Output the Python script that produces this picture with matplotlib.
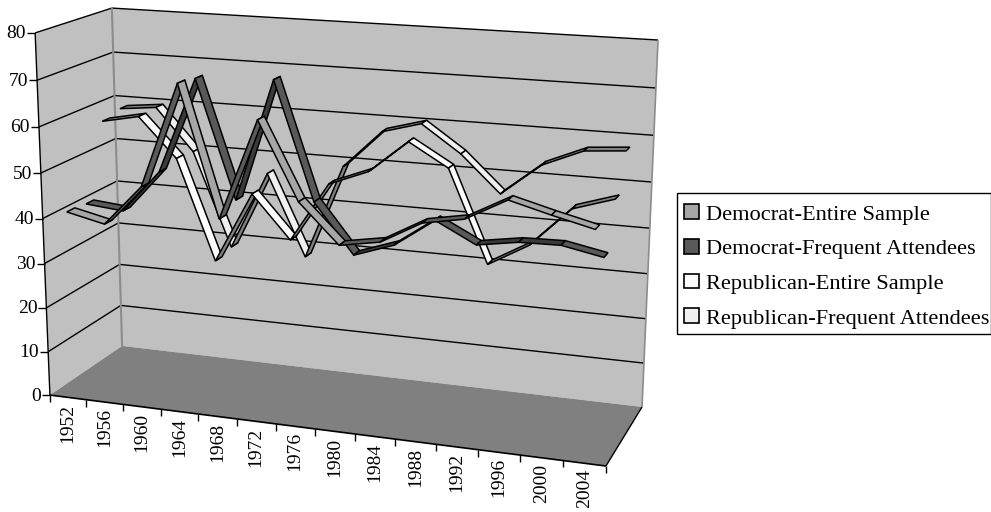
import numpy as np
import matplotlib
matplotlib.use("Agg")
import matplotlib.pyplot as plt
from matplotlib.patches import Polygon, Patch, Rectangle

plt.rcParams['font.family'] = ['Liberation Serif', 'DejaVu Serif']
years = list(range(1952, 2008, 4))
names = ['Democrat-Entire Sample', 'Democrat-Frequent Attendees', 'Republican-Entire Sample', 'Republican-Frequent Attendees']
dem_entire = [41.2, 39.3, 48.2, 70.9, 42.8, 64.5, 48.0, 39.6, 41.1, 45.9, 47.5, 52.2, 49.9, 47.8]
dem_frequent = [40.8, 40.0, 49.4, 70.3, 44.7, 71.2, 45.8, 35.1, 38.1, 44.2, 39.8, 41.2, 41.4, 39.7]
rep_entire = [57.4, 59.1, 50.4, 28.0, 43.9, 34.4, 47.6, 51.0, 58.2, 53.2, 33.2, 38.2, 46.8, 49.6]
rep_frequent = [58.5, 59.4, 50.0, 28.8, 46.4, 28.2, 49.4, 57.8, 60.2, 54.3, 46.3, 53.3, 57.0, 57.7]
series = [dem_entire, dem_frequent, rep_entire, rep_frequent]
colors = ['#a6a6a6', '#595959', '#fcfcfc', '#f0f0f0']
under = ['#5a5a5a', '#3a3a3a', '#808080', '#808080']

cube = np.array([[0,0,0],[0,0,1],[0,1,0],[0,1,1],[1,1,1],[1,1,0],[1,0,0]], float)
pix = np.array([[50,395],[35,33],[122,346],[112,8],[658,40],[642,407],[606,466]], float)
A = []; b = []
for (x,d,v),(u,w) in zip(cube,pix):
    A.append([x,d,v,1,0,0,0,0,-u*x,-u*d,-u*v]); b.append(u)
    A.append([0,0,0,0,x,d,v,1,-w*x,-w*d,-w*v]); b.append(w)
P = np.linalg.lstsq(np.array(A),np.array(b),rcond=None)[0]
M = np.append(P,1).reshape(3,4)
def proj(x,d,v):
    h = M @ np.array([x,d,v/80.0,1.0])
    return h[0]/h[2], h[1]/h[2]
centers=[.125,.375,.625,.875]

fig = plt.figure(figsize=(9.91,5.12),dpi=100)
ax = fig.add_axes([0,0,1,1]); ax.set_xlim(0,991); ax.set_ylim(512,0); ax.axis('off')
def poly(pts,fc,ec='none',lw=0,z=1):
    ax.add_patch(Polygon(pts,closed=True,fc=fc,ec=ec,lw=lw,zorder=z,joinstyle='miter'))
def line(p,q,c='k',lw=1,z=2):
    ax.plot([p[0],q[0]],[p[1],q[1]],color=c,lw=lw,zorder=z,solid_capstyle='butt')
poly([proj(0,0,0),proj(0,0,80),proj(0,1,80),proj(0,1,0)],'#c0c0c0')
poly([proj(0,1,0),proj(0,1,80),proj(1,1,80),proj(1,1,0)],'#c0c0c0')
poly([proj(0,0,0),proj(0,1,0),proj(1,1,0),proj(1,0,0)],'#808080')
for v in range(10,81,10):
    line(proj(0,0,v),proj(0,1,v)); line(proj(0,1,v),proj(1,1,v))
line(proj(0,1,0),proj(0,1,80),'#8c8c8c',1.5)
line(proj(1,1,0),proj(1,1,80),'#8c8c8c',1.2)
line(proj(0,0,0),proj(0,0,80),'k',1)
line(proj(0,0,0),proj(1,0,0),'k',1.2); line(proj(1,0,0),proj(1,1,0),'k',1)
for v in range(0,81,10):
    p=proj(0,0,v); line((p[0]-8,p[1]),p)
    ax.text(p[0]-9,p[1]+1,str(v),ha='right',va='center',fontsize=14)
for i in range(15):
    p=proj(i/14,0,0); line(p,(p[0],p[1]+7))
for i,y in enumerate(years):
    p=proj((i+.5)/14,0,0)
    ax.text(p[0],p[1]+6,str(y),rotation=90,ha='center',va='top',fontsize=14)
w=.052
for k in [3,2,1,0]:
    s=series[k]; c=centers[k]
    for i in range(13):
        x0,x1=(i+.5)/14,(i+1.5)/14
        col=colors[k] if s[i+1]<=s[i] else under[k]
        poly([proj(x0,c-w,s[i]),proj(x1,c-w,s[i+1]),proj(x1,c+w,s[i+1]),proj(x0,c+w,s[i])],col,'k',1.1,5+(3-k))
ax.add_patch(Rectangle((676.5,192.5),314,141,fc='white',ec='k',lw=1,zorder=3))
h=[Patch(fc=c,ec='k',lw=1.2) for c in colors]
ax.legend(h,names,loc='upper left',bbox_to_anchor=(684,204.5),bbox_transform=ax.transData,fontsize=16.1,
  frameon=False,borderaxespad=0,handlelength=.67,handleheight=.62,
  handletextpad=.31,labelspacing=.65,borderpad=0)
fig.savefig('out.png',dpi=100)
